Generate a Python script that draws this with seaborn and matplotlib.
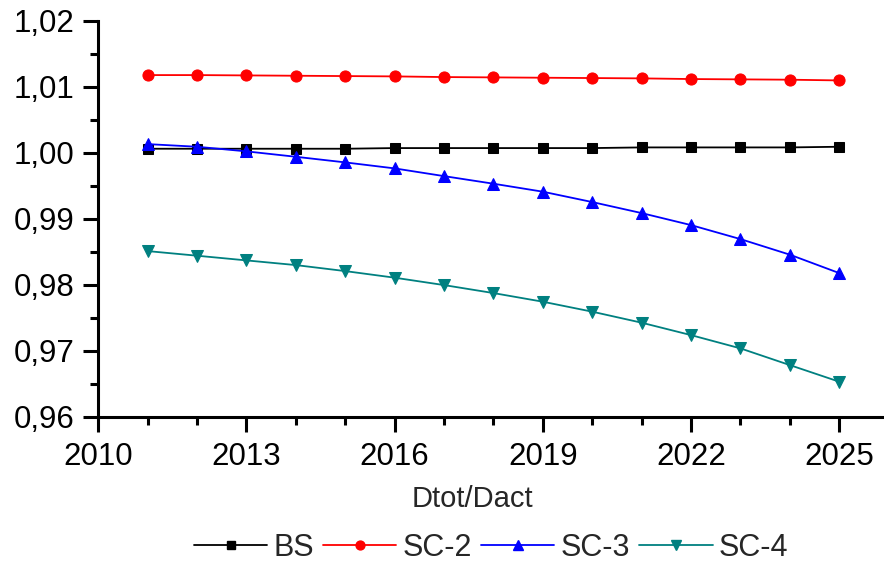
import matplotlib
matplotlib.use("Agg")
import matplotlib.pyplot as plt
from matplotlib.ticker import MultipleLocator, FuncFormatter
from matplotlib.lines import Line2D
import seaborn as sns
import pandas as pd

years = list(range(2011, 2026))

bs = [1.0006, 1.0006, 1.0006, 1.0006, 1.0006, 1.0007, 1.0007, 1.0007,
      1.0007, 1.0007, 1.0008, 1.0008, 1.0008, 1.0008, 1.0009]
sc2 = [1.01176, 1.01176, 1.01171, 1.01166, 1.01161, 1.01156, 1.01146, 1.01141,
       1.01136, 1.01131, 1.01126, 1.01116, 1.01111, 1.01106, 1.01095]
sc3 = [1.0013, 1.0009, 1.0002, 0.99938, 0.99853, 0.99762, 0.99645, 0.9953,
       0.99409, 0.99252, 0.99085, 0.98903, 0.98691, 0.98455, 0.98176]
sc4 = [0.98509, 0.98439, 0.98368, 0.98297, 0.98206, 0.98106, 0.97994, 0.97873,
       0.97742, 0.97591, 0.97424, 0.97236, 0.97035, 0.96782, 0.96530]

series_names = ["BS", "SC-2", "SC-3", "SC-4"]
series_values = [bs, sc2, sc3, sc4]
colors = ["#000000", "#FF0000", "#0000FF", "#008080"]
markers = ["s", "o", "^", "v"]
marker_sizes = [7, 8, 8.5, 8.5]

x_ticks = [2010, 2013, 2016, 2019, 2022, 2025]
y_ticks = [0.96, 0.97, 0.98, 0.99, 1.00, 1.01, 1.02]

sns.set_theme(style="ticks")
plt.rcParams["font.family"] = ["Liberation Sans", "DejaVu Sans"]

fig = plt.figure(figsize=(8.84, 5.64), dpi=100)
ax = fig.add_axes([0.1112, 0.2612, 0.894, 0.7021])

for name, vals, c, m, ms in zip(series_names, series_values, colors, markers, marker_sizes):
    df = pd.DataFrame({"year": years, "value": vals})
    sns.lineplot(data=df, x="year", y="value", ax=ax, color=c, marker=m,
                 markersize=ms, markeredgecolor=c, linewidth=1.3, legend=False)

ax.set_xlim(2010, 2026)
ax.set_ylim(0.96, 1.02)
ax.set_xticks(x_ticks)
ax.set_yticks(y_ticks)
ax.xaxis.set_minor_locator(MultipleLocator(1))
ax.yaxis.set_minor_locator(MultipleLocator(0.005))
ax.yaxis.set_major_formatter(FuncFormatter(lambda v, p: f"{v:.2f}".replace(".", ",")))

for side in ["top", "right"]:
    ax.spines[side].set_visible(False)
for side in ["left", "bottom"]:
    ax.spines[side].set_linewidth(2.2)
    ax.spines[side].set_color("black")

ax.tick_params(which="major", direction="out", length=11, width=2.2,
               labelsize=22.5, pad=6, colors="black")
ax.tick_params(which="minor", direction="out", length=6, width=2.2, colors="black")
ax.tick_params(axis="x", which="major", pad=7)

ax.set_ylabel("")
ax.set_xlabel("Dtot/Dact", fontsize=21)
ax.xaxis.set_label_coords(0.474, -0.207)
ax.xaxis.label.set_verticalalignment("center")

handles = [Line2D([0], [0], color=c, marker=m, markersize=ms * 0.8,
                  markeredgecolor=c, linewidth=1.3)
           for c, m, ms in zip(colors, markers, marker_sizes)]
fig.legend(handles, series_names, loc="center", bbox_to_anchor=(0.5554, 0.029),
           ncol=4, frameon=False, fontsize=22, handlelength=2.4,
           handletextpad=0.2, columnspacing=0.3, borderpad=0)

fig.savefig("out.png", dpi=100)
